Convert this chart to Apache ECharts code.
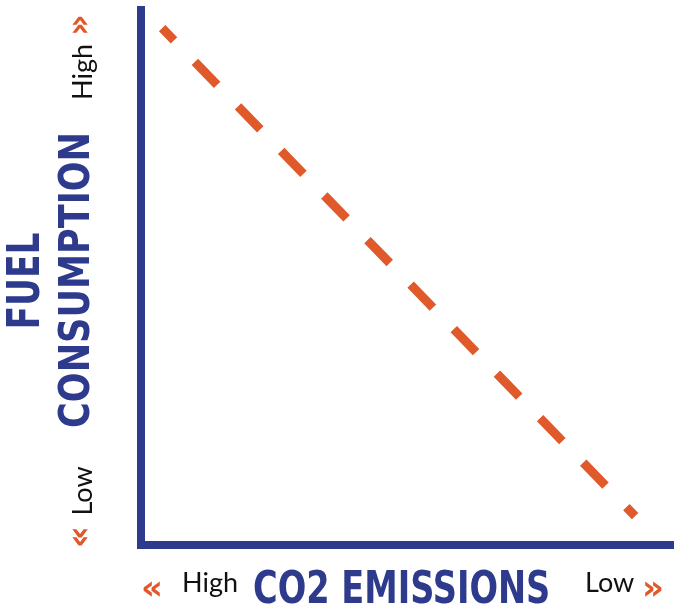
<!DOCTYPE html>
<html>
<head>
<meta charset="utf-8">
<script src="https://cdn.jsdelivr.net/npm/echarts@6/dist/echarts.min.js"></script>
<style>
  html, body { margin: 0; padding: 0; background: #fff; }
  #chart { width: 676px; height: 610px; }
</style>
</head>
<body>
<div id="chart"></div>
<script>
// trend line: CO2 emissions (x, high -> low) vs fuel consumption (y)
const xValues = [0.040, 0.934]
const yValues = [0.966, 0.054]
const xLabels = ['High', 'Low']
const yLabels = ['Low', 'High']

const blue = '#2e3a8c'
const orange = '#e0592a'
const titleFont = '"DejaVu Sans Condensed", "DejaVu Sans", sans-serif'
const labelFont = 'Lato, "Open Sans", sans-serif'
const arrowFont = 'bold 34px "DejaVu Sans", sans-serif'

const chart = echarts.init(document.getElementById('chart'))

const option = {
  animation: false,
  grid: { left: 141, right: 6, top: 10, bottom: 65 },
  xAxis: {
    type: 'value', min: 0, max: 1,
    axisLine: { show: true, lineStyle: { color: blue, width: 8, cap: 'square' } },
    axisTick: { show: false }, axisLabel: { show: false }, splitLine: { show: false }
  },
  yAxis: {
    type: 'value', min: 0, max: 1,
    axisLine: { show: true, lineStyle: { color: blue, width: 8, cap: 'square' } },
    axisTick: { show: false }, axisLabel: { show: false }, splitLine: { show: false }
  },
  series: [{
    type: 'line',
    data: xValues.map((x, i) => [x, yValues[i]]),
    symbol: 'none',
    lineStyle: { color: orange, width: 9, type: [32, 30], dashOffset: 15, cap: 'butt' }
  }],
  graphic: [
    // x axis
    { type: 'text', x: 152, y: 590, style: { text: '«', fill: orange, font: arrowFont, align: 'center', verticalAlign: 'middle' } },
    { type: 'text', left: 182, top: 570, style: { text: xLabels[0], fill: '#111', font: '27px ' + labelFont } },
    { type: 'text', left: 253, top: 569, scaleX: 0.83, style: { text: 'CO2 EMISSIONS', fill: blue, font: 'bold 45px ' + titleFont } },
    { type: 'text', left: 585, top: 570, style: { text: xLabels[1], fill: '#111', font: '27px ' + labelFont } },
    { type: 'text', x: 653, y: 590, style: { text: '»', fill: orange, font: arrowFont, align: 'center', verticalAlign: 'middle' } },
    // y axis
    { type: 'text', x: 83, y: 72, rotation: Math.PI / 2, style: { text: yLabels[1], fill: '#111', font: '27px ' + labelFont, align: 'center', verticalAlign: 'middle' } },
    { type: 'text', x: 81, y: 25, rotation: Math.PI / 2, style: { text: '»', fill: orange, font: arrowFont, align: 'center', verticalAlign: 'middle' } },
    { type: 'text', x: 83, y: 491, rotation: Math.PI / 2, style: { text: yLabels[0], fill: '#111', font: '27px ' + labelFont, align: 'center', verticalAlign: 'middle' } },
    { type: 'text', x: 81, y: 537, rotation: Math.PI / 2, style: { text: '«', fill: orange, font: arrowFont, align: 'center', verticalAlign: 'middle' } },
    { type: 'text', x: 28, y: 281, rotation: Math.PI / 2, scaleX: 0.87, style: { text: 'FUEL', fill: blue, font: 'bold 44px ' + titleFont, align: 'center', verticalAlign: 'middle' } },
    { type: 'text', x: 78, y: 280, rotation: Math.PI / 2, scaleX: 0.93, style: { text: 'CONSUMPTION', fill: blue, font: 'bold 42px ' + titleFont, align: 'center', verticalAlign: 'middle' } }
  ]
}

chart.setOption(option)
window.addEventListener('resize', function () {
  chart.resize()
})
</script>
</body>
</html>
